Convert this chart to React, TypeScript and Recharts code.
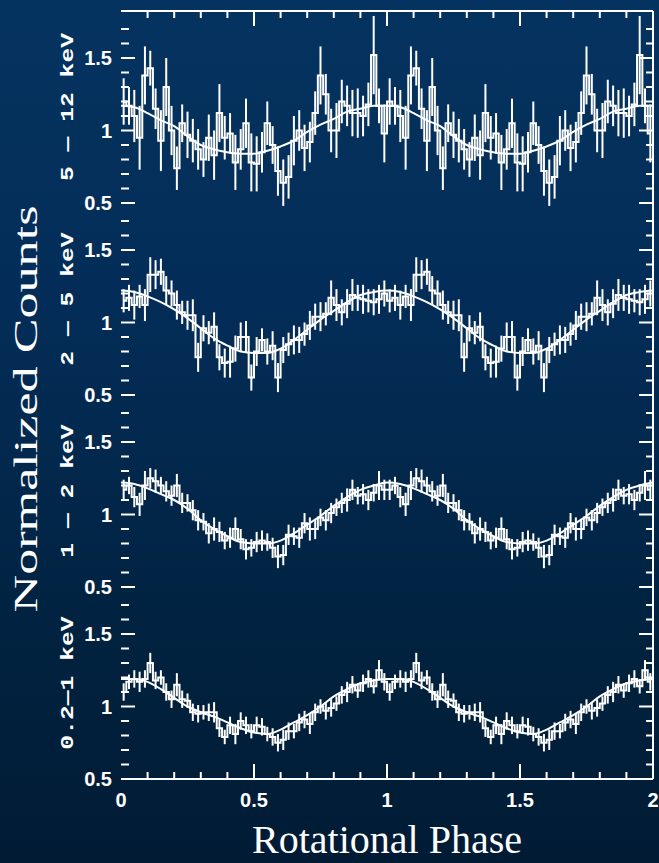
import React from "react";
import { ComposedChart, Line, XAxis, YAxis, ErrorBar } from "recharts";

// Phase-folded light curves, one cycle each (50 bins), drawn twice (phase 0-2)
const BAND_LABELS = ["5 — 12 keV", "2 — 5 keV", "1 — 2 keV", "0.2—1 keV"];

const COUNTS_5_12 = [
  1.2, 1.17, 1.1, 0.95, 1.38, 1.43, 1.15, 0.93, 1.3, 1.0,
  0.74, 1.05, 0.97, 0.93, 0.87, 0.8, 0.95, 0.83, 1.12, 0.95,
  0.98, 0.78, 0.87, 1.05, 0.78, 0.77, 0.85, 1.05, 0.9, 0.72,
  0.64, 0.68, 0.93, 1.0, 0.88, 0.92, 1.12, 1.38, 1.25, 1.0,
  1.0, 1.2, 1.17, 1.12, 1.12, 1.1, 1.18, 1.52, 1.17, 0.98,
];
const ERR_5_12 = [
  0.16, 0.13, 0.18, 0.22, 0.2, 0.12, 0.14, 0.21, 0.2, 0.17,
  0.15, 0.13, 0.16, 0.15, 0.14, 0.12, 0.16, 0.17, 0.2, 0.15,
  0.14, 0.19, 0.14, 0.17, 0.2, 0.19, 0.14, 0.15, 0.13, 0.17,
  0.16, 0.15, 0.17, 0.14, 0.16, 0.14, 0.15, 0.2, 0.14, 0.15,
  0.19, 0.15, 0.14, 0.16, 0.17, 0.14, 0.15, 0.27, 0.12, 0.2,
];

const COUNTS_2_5 = [
  1.15, 1.17, 1.12, 1.18, 1.12, 1.33, 1.33, 1.35, 1.22, 1.2,
  1.12, 1.07, 1.05, 1.05, 0.76, 0.96, 0.93, 0.97, 0.76, 0.72,
  0.73, 0.82, 0.9, 0.9, 0.62, 0.8, 0.88, 0.8, 0.84, 0.62,
  0.81, 0.85, 0.88, 0.88, 0.92, 0.98, 1.04, 1.04, 1.06, 1.17,
  1.12, 1.07, 1.13, 1.19, 1.17, 1.16, 1.15, 1.14, 1.16, 1.2,
];
const ERR_2_5 = [
  0.08, 0.09, 0.1, 0.08, 0.11, 0.12, 0.1, 0.09, 0.1, 0.09,
  0.1, 0.08, 0.1, 0.11, 0.1, 0.09, 0.08, 0.1, 0.09, 0.1,
  0.11, 0.09, 0.1, 0.11, 0.09, 0.1, 0.08, 0.09, 0.1, 0.1,
  0.09, 0.08, 0.1, 0.09, 0.08, 0.1, 0.09, 0.1, 0.08, 0.12,
  0.11, 0.09, 0.1, 0.11, 0.09, 0.1, 0.08, 0.09, 0.1, 0.09,
];

const COUNTS_1_2 = [
  1.17, 1.2, 1.12, 1.07, 1.2, 1.25, 1.23, 1.2, 1.16, 1.13,
  1.2, 1.08, 1.08, 1.03, 0.96, 0.95, 0.87, 0.9, 0.88, 0.82,
  0.84, 0.9, 0.83, 0.76, 0.77, 0.81, 0.82, 0.81, 0.77, 0.71,
  0.72, 0.86, 0.85, 0.84, 0.94, 0.9, 0.9, 0.98, 0.96, 1.01,
  1.05, 1.08, 1.1, 1.17, 1.13, 1.14, 1.1, 1.15, 1.2, 1.17,
];
const ERR_1_2 = [
  0.07, 0.06, 0.07, 0.08, 0.1, 0.07, 0.08, 0.06, 0.07, 0.07,
  0.08, 0.07, 0.06, 0.07, 0.07, 0.06, 0.07, 0.08, 0.07, 0.06,
  0.07, 0.08, 0.07, 0.07, 0.06, 0.07, 0.07, 0.06, 0.07, 0.08,
  0.07, 0.07, 0.06, 0.07, 0.07, 0.08, 0.07, 0.06, 0.07, 0.07,
  0.06, 0.07, 0.08, 0.07, 0.06, 0.07, 0.07, 0.06, 0.1, 0.07,
];

const COUNTS_02_1 = [
  1.1, 1.17, 1.19, 1.17, 1.19, 1.3, 1.18, 1.2, 1.1, 1.05,
  1.15, 1.05, 1.04, 0.96, 0.95, 0.96, 0.96, 0.96, 0.85, 0.79,
  0.87, 0.81, 0.9, 0.87, 0.83, 0.87, 0.86, 0.81, 0.79, 0.75,
  0.77, 0.83, 0.83, 0.89, 0.91, 0.88, 0.96, 1.0, 0.97, 0.99,
  1.02, 1.08, 1.1, 1.15, 1.11, 1.16, 1.19, 1.14, 1.25, 1.17,
];
const ERR_02_1 = [
  0.06, 0.05, 0.06, 0.07, 0.06, 0.07, 0.06, 0.05, 0.06, 0.06,
  0.08, 0.06, 0.05, 0.06, 0.06, 0.05, 0.06, 0.07, 0.06, 0.05,
  0.06, 0.07, 0.06, 0.06, 0.05, 0.06, 0.06, 0.05, 0.06, 0.06,
  0.07, 0.06, 0.05, 0.06, 0.06, 0.07, 0.06, 0.05, 0.06, 0.06,
  0.05, 0.06, 0.07, 0.06, 0.05, 0.06, 0.06, 0.05, 0.07, 0.06,
];

// model curves, sampled every 0.05 in phase over one cycle
const FIT_PHASE = [
  0, 0.05, 0.1, 0.15, 0.2, 0.25, 0.3, 0.35, 0.4, 0.45, 0.5,
  0.55, 0.6, 0.65, 0.7, 0.75, 0.8, 0.85, 0.9, 0.95, 1.0,
];
const FIT_5_12 = [
  1.17, 1.16, 1.12, 1.07, 1.03, 0.96, 0.9, 0.87, 0.85, 0.84, 0.84,
  0.86, 0.89, 0.93, 0.99, 1.04, 1.08, 1.13, 1.15, 1.17, 1.17,
];
const FIT_2_5 = [
  1.22, 1.21, 1.18, 1.14, 1.09, 1.03, 0.96, 0.89, 0.84, 0.8, 0.79,
  0.79, 0.82, 0.88, 0.95, 1.02, 1.08, 1.14, 1.19, 1.21, 1.22,
];
const FIT_1_2 = [
  1.22, 1.21, 1.18, 1.14, 1.1, 1.04, 0.96, 0.9, 0.85, 0.81, 0.8,
  0.8, 0.82, 0.87, 0.93, 0.99, 1.06, 1.12, 1.17, 1.2, 1.22,
];
const FIT_02_1 = [
  1.19, 1.19, 1.17, 1.12, 1.06, 1.0, 0.96, 0.93, 0.89, 0.85, 0.82,
  0.81, 0.84, 0.89, 0.94, 1.0, 1.07, 1.12, 1.16, 1.18, 1.19,
];

const X_TICKS = [
  0, 0.1, 0.2, 0.3, 0.4, 0.5, 0.6, 0.7, 0.8, 0.9, 1,
  1.1, 1.2, 1.3, 1.4, 1.5, 1.6, 1.7, 1.8, 1.9, 2,
];
const Y_TICKS = [0.5, 0.6, 0.7, 0.8, 0.9, 1, 1.1, 1.2, 1.3, 1.4, 1.5, 1.6, 1.7];

// layout
const W = 659;
const PLOT_LEFT = 121;
const PLOT_RIGHT = 653;
const PANEL_H = 192;
const FIRST_TOP = 11;
const PAD = 20;
const Y_DOMAIN = [0.5, 0.5 + PANEL_H / 145];
const WHITE = "#ffffff";

const isMajor = (v: number) => Math.abs(v * 2 - Math.round(v * 2)) < 1e-6;

function makeBins(vals: number[], errs: number[]) {
  const out: { phase: number; v: number; e: number }[] = [];
  for (let cycle = 0; cycle < 2; cycle++) {
    vals.forEach((v, i) => {
      out.push({ phase: cycle + (i + 0.5) / vals.length, v, e: errs[i] });
    });
  }
  return out;
}

function makeFit(vals: number[]) {
  const out: { phase: number; fit: number }[] = [];
  for (let cycle = 0; cycle < 2; cycle++) {
    FIT_PHASE.forEach((p, i) => {
      if (cycle === 1 && i === 0) return;
      out.push({ phase: cycle + p, fit: vals[i] });
    });
  }
  return out;
}

const PANELS = [
  { label: BAND_LABELS[0], bins: makeBins(COUNTS_5_12, ERR_5_12), fit: makeFit(FIT_5_12) },
  { label: BAND_LABELS[1], bins: makeBins(COUNTS_2_5, ERR_2_5), fit: makeFit(FIT_2_5) },
  { label: BAND_LABELS[2], bins: makeBins(COUNTS_1_2, ERR_1_2), fit: makeFit(FIT_1_2) },
  { label: BAND_LABELS[3], bins: makeBins(COUNTS_02_1, ERR_02_1), fit: makeFit(FIT_02_1) },
];

const numFont = "'Liberation Sans', Arial, sans-serif";

const fmt = (v: number) => (Math.abs(v - 1) < 1e-6 ? "1" : Math.abs(v - 2) < 1e-6 ? "2" : v === 0 ? "0" : String(v));

function LeftTick(props: any) {
  const { y, payload } = props;
  const major = isMajor(payload.value);
  return (
    <g>
      <line x1={PLOT_LEFT} x2={PLOT_LEFT + (major ? 14 : 8)} y1={y} y2={y} stroke={WHITE} strokeWidth={2} />
      {major && (
        <text x={112} y={y} dy={7} textAnchor="end" fill={WHITE} fontSize={20} fontWeight="bold" fontFamily={numFont}>
          {fmt(payload.value)}
        </text>
      )}
    </g>
  );
}

function RightTick(props: any) {
  const { y, payload } = props;
  const major = isMajor(payload.value);
  return <line x1={PLOT_RIGHT - (major ? 14 : 7)} x2={PLOT_RIGHT} y1={y} y2={y} stroke={WHITE} strokeWidth={2} />;
}

function TopTick(props: any) {
  const { x, payload } = props;
  const v = payload.value;
  if (v === 0 || v === 2) return <g />;
  const major = isMajor(v);
  return <line x1={x} x2={x} y1={PAD} y2={PAD + (major ? 15 : 7)} stroke={WHITE} strokeWidth={2} />;
}

function BottomTick(props: any) {
  const { x, payload } = props;
  const v = payload.value;
  const major = isMajor(v);
  const base = PAD + PANEL_H;
  return (
    <g>
      {v !== 0 && v !== 2 && (
        <line x1={x} x2={x} y1={base} y2={base - (major ? 15 : 7)} stroke={WHITE} strokeWidth={2} />
      )}
      {major && (
        <text x={x} y={base + 28} textAnchor="middle" fill={WHITE} fontSize={20} fontWeight="bold" fontFamily={numFont}>
          {fmt(v)}
        </text>
      )}
    </g>
  );
}

function Panel({ index }: { index: number }) {
  const p = PANELS[index];
  const isTop = index === 0;
  const isBottom = index === PANELS.length - 1;
  const bottomH = isBottom ? 84 : PAD;
  const height = PAD + PANEL_H + bottomH;
  const plotTop = FIRST_TOP + PANEL_H * index;

  return (
    <div style={{ position: "absolute", left: 0, top: plotTop - PAD }}>
      <ComposedChart
        width={W}
        height={height}
        data={p.bins}
        margin={{ top: isTop ? 0 : PAD, right: W - PLOT_RIGHT - 1, bottom: isBottom ? 0 : PAD, left: 0 }}
      >
        {isTop ? (
          <XAxis
            dataKey="phase"
            type="number"
            domain={[0, 2]}
            ticks={X_TICKS}
            interval={0}
            orientation="top"
            height={PAD}
            axisLine={{ stroke: WHITE, strokeWidth: 2 }}
            tickLine={false}
            tick={TopTick}
          />
        ) : isBottom ? (
          <XAxis
            dataKey="phase"
            type="number"
            domain={[0, 2]}
            ticks={X_TICKS}
            interval={0}
            height={bottomH}
            axisLine={{ stroke: WHITE, strokeWidth: 2 }}
            tickLine={false}
            tick={BottomTick}
            label={{
              content: () => (
                <text
                  x={(PLOT_LEFT + PLOT_RIGHT) / 2}
                  y={PAD + PANEL_H + 74}
                  textAnchor="middle"
                  fill={WHITE}
                  fontSize={40}
                  fontFamily="'Liberation Serif', 'Times New Roman', serif"
                >
                  Rotational Phase
                </text>
              ),
            }}
          />
        ) : (
          <XAxis dataKey="phase" type="number" domain={[0, 2]} hide />
        )}
        <YAxis
          yAxisId="left"
          type="number"
          domain={Y_DOMAIN}
          allowDataOverflow
          ticks={Y_TICKS}
          interval={0}
          width={PLOT_LEFT}
          axisLine={false}
          tickLine={false}
          tick={LeftTick}
          label={{
            content: () => (
              <text
                transform={`translate(68, ${PAD + PANEL_H / 2}) rotate(-90) scale(1.3, 1)`}
                textAnchor="middle"
                dominantBaseline="central"
                fill={WHITE}
                fontSize={19}
                fontWeight="bold"
                fontFamily="'Liberation Mono', 'DejaVu Sans Mono', monospace"
              >
                {p.label}
              </text>
            ),
          }}
        />
        <YAxis
          yAxisId="right"
          orientation="right"
          type="number"
          domain={Y_DOMAIN}
          allowDataOverflow
          ticks={Y_TICKS}
          interval={0}
          width={1}
          axisLine={{ stroke: WHITE, strokeWidth: 2 }}
          tickLine={false}
          tick={RightTick}
        />
        <Line
          yAxisId="left"
          dataKey="v"
          type="step"
          stroke={WHITE}
          strokeWidth={2}
          dot={false}
          isAnimationActive={false}
        >
          <ErrorBar dataKey="e" width={0} stroke={WHITE} strokeWidth={2} direction="y" isAnimationActive={false} />
        </Line>
        <Line
          yAxisId="left"
          data={p.fit}
          dataKey="fit"
          type="monotone"
          stroke={WHITE}
          strokeWidth={2}
          dot={false}
          isAnimationActive={false}
        />
      </ComposedChart>
    </div>
  );
}

export default function App() {
  return (
    <div
      style={{
        position: "absolute",
        left: 0,
        top: 0,
        width: W,
        height: 863,
        overflow: "hidden",
        background: "linear-gradient(to bottom, #05335f 0%, #032d58 35%, #01223f 75%, #011b35 100%)",
      }}
    >
      {PANELS.map((_, i) => (
        <Panel key={i} index={i} />
      ))}
      <div
        style={{
          position: "absolute",
          left: 26,
          top: 409,
          transform: "translate(-50%, -50%) rotate(-90deg) scaleX(1.58)",
          whiteSpace: "nowrap",
          color: WHITE,
          fontSize: 33,
          lineHeight: 1,
          fontFamily: "'Liberation Serif', 'Times New Roman', serif",
        }}
      >
        Normalized Counts
      </div>
    </div>
  );
}
